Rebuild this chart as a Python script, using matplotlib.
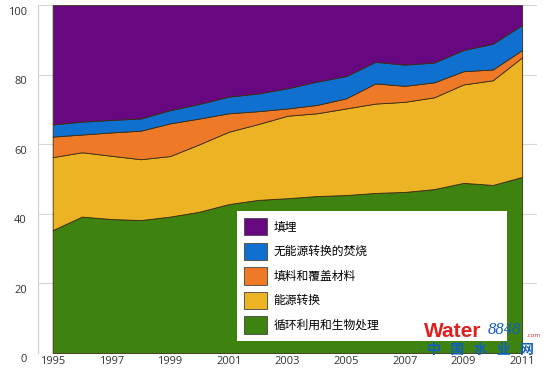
import numpy as np
import matplotlib
matplotlib.use("Agg")
import matplotlib.pyplot as plt
import matplotlib.transforms as mtransforms
from matplotlib.patches import Patch

plt.rcParams['font.family'] = ['Open Sans', 'Noto Sans CJK SC', 'DejaVu Sans']

# Shares (%) per year
years = np.arange(1995, 2012)
recycling = [35.3, 39.2, 38.5, 38.2, 39.2, 40.6, 42.8, 44.0, 44.5, 45.1, 45.4, 46.0, 46.3, 47.1, 48.9, 48.3, 50.6]
energy = [21.0, 18.5, 18.2, 17.5, 17.4, 19.4, 20.8, 21.8, 23.7, 23.8, 24.9, 25.7, 25.9, 26.4, 28.3, 30.1, 34.4]
backfill = [5.9, 5.1, 6.7, 8.2, 9.4, 7.4, 5.3, 3.7, 2.1, 2.4, 2.9, 5.8, 4.6, 4.3, 3.8, 3.1, 2.1]
incineration = [3.5, 3.7, 3.6, 3.5, 3.8, 4.2, 4.8, 5.1, 5.8, 6.7, 6.4, 6.2, 6.1, 5.7, 6.1, 7.4, 7.2]
landfill = [34.3, 33.5, 33.0, 32.6, 30.2, 28.4, 26.3, 25.4, 23.9, 22.0, 20.4, 16.3, 17.1, 16.5, 12.9, 11.1, 5.7]

labels = ["循环利用和生物处理", "能源转换", "填料和覆盖材料", "无能源转换的焚烧", "填埋"]
colors = ["#3e8210", "#ecb424", "#ee7a28", "#1070d0", "#680880"]
xticks = [1995, 1997, 1999, 2001, 2003, 2005, 2007, 2009, 2011]

fig = plt.figure(figsize=(5.53, 3.68), dpi=100)
ax = fig.add_axes([0.0687, 0.041, 0.902, 0.945])

ax.stackplot(years, recycling, energy, backfill, incineration, landfill,
             colors=colors, edgecolor="#3a2a10", linewidth=0.6, zorder=2)

ax.set_xlim(1994.5, 2011.5)
ax.set_ylim(0, 100)
ax.set_xticks(xticks)
ax.set_yticks([0, 20, 40, 60, 80, 100])
ax.grid(axis="y", color="#d8d8d8", linewidth=0.8, zorder=0)
ax.set_axisbelow(True)
for side in ["top", "right", "bottom"]:
    ax.spines[side].set_visible(False)
ax.spines["left"].set_color("#d0d0d0")
ax.tick_params(axis="both", length=0, labelsize=8, colors="#333333")
ax.tick_params(axis="y", pad=8)
ax.tick_params(axis="x", pad=2)

# y labels sit a little below their grid lines in the reference
shift = mtransforms.ScaledTranslation(0, -4 / 72, fig.dpi_scale_trans)
for lbl in ax.get_yticklabels():
    lbl.set_transform(lbl.get_transform() + shift)

# legend, top layer first
handles = [Patch(facecolor=c, edgecolor="#444444", linewidth=0.6) for c in colors][::-1]
leg = ax.legend(handles, labels[::-1], loc="lower left",
                bbox_to_anchor=(0.399, 0.035, 0.541, 0.39), mode="expand",
                fontsize=8.5, frameon=True, fancybox=False, framealpha=1,
                handlelength=1.9, handleheight=1.9, labelspacing=0.6,
                borderpad=0.6, handletextpad=0.6, borderaxespad=0)
leg.get_frame().set_edgecolor("white")
leg.get_frame().set_linewidth(0)

# watermark
fig.text(0.767, 0.098, "Water", color="#e02020", fontsize=15, fontweight="bold",
         va="center", family=["Liberation Sans", "DejaVu Sans"])
fig.text(0.881, 0.104, "8848", color="#1060c0", fontsize=12, style="italic",
         va="center", family=["Liberation Serif", "DejaVu Serif"])
fig.text(0.953, 0.088, ".com", color="#e02020", fontsize=4.5, va="center")
fig.text(0.772, 0.049, "中   国   水   业   网", color="#1060c0", fontsize=10,
         fontweight="bold", va="center", family=["Noto Sans CJK SC", "DejaVu Sans"])

fig.savefig("out.png", dpi=100)
